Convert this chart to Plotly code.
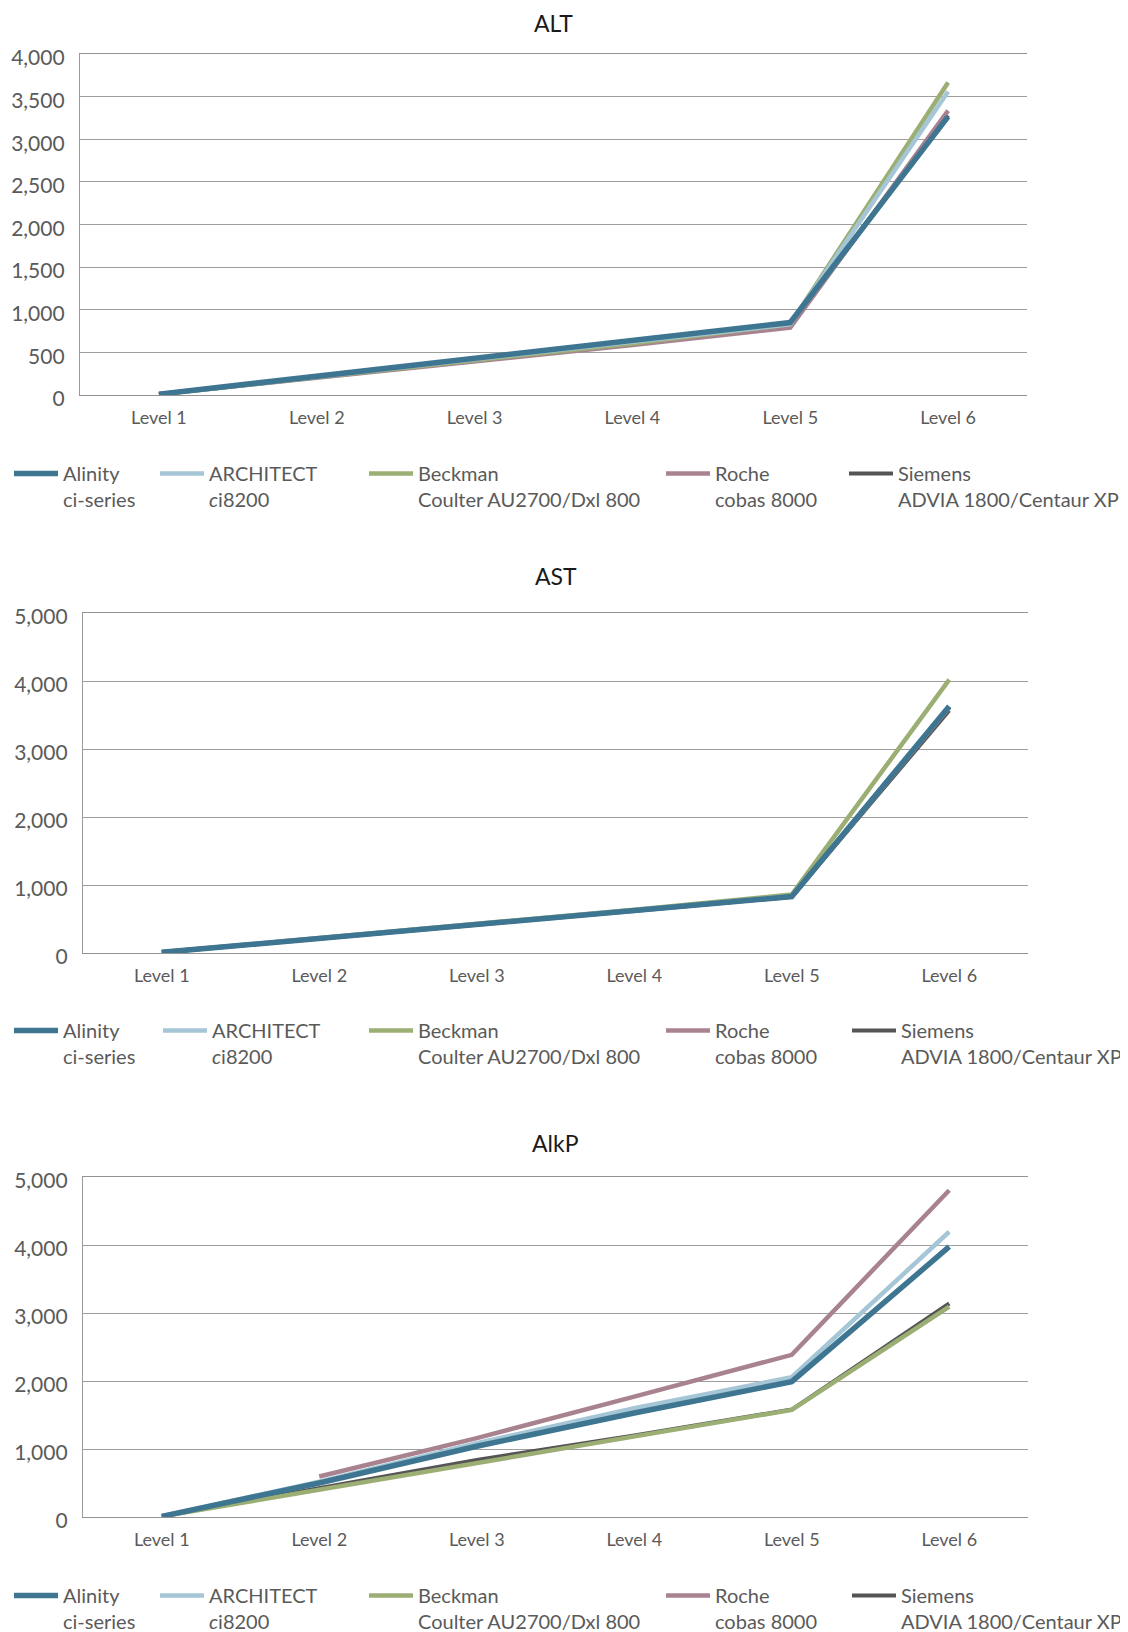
import plotly.graph_objects as go

W, H = 1128, 1632
OFF = 8  # page body margin of the written HTML page

levels = ["Level 1", "Level 2", "Level 3", "Level 4", "Level 5", "Level 6"]

# ALT
alt_alinity = [10, 220, 430, 640, 850, 3265]
alt_architect = [10, 215, 420, 620, 830, 3560]
alt_beckman = [10, 205, 405, 605, 830, 3665]
alt_roche = [10, 200, 395, 585, 790, 3335]
alt_siemens = [10, 210, 415, 615, 820, 3280]

# AST
ast_alinity = [10, 220, 420, 620, 830, 3630]
ast_architect = [10, 220, 420, 625, 835, 3620]
ast_beckman = [10, 225, 430, 635, 860, 4020]
ast_roche = [10, 220, 420, 620, 830, 3610]
ast_siemens = [10, 215, 415, 615, 825, 3565]

# AlkP
alkp_alinity = [10, 500, 1040, 1530, 1990, 3975]
alkp_architect = [10, 520, 1085, 1600, 2055, 4195]
alkp_beckman = [10, 400, 795, 1185, 1575, 3095]
alkp_roche = [None, 595, 1160, 1770, 2385, 4805]
alkp_siemens = [10, 420, 840, 1200, 1580, 3140]

series_names = [
    "Alinity<br>ci-series",
    "ARCHITECT<br><i>c</i>i8200",
    "Beckman<br>Coulter AU2700/Dxl 800",
    "Roche<br>cobas 8000",
    "Siemens<br>ADVIA 1800/Centaur XP",
]
series_colors = ["#3e7691", "#a5c6d6", "#9bae73", "#a8828f", "#555555"]
series_widths = [5.5, 4.5, 4.5, 4.5, 4]

chart_titles = ["ALT", "AST", "AlkP"]
chart_data = [
    [alt_alinity, alt_architect, alt_beckman, alt_roche, alt_siemens],
    [ast_alinity, ast_architect, ast_beckman, ast_roche, ast_siemens],
    [alkp_alinity, alkp_architect, alkp_beckman, alkp_roche, alkp_siemens],
]
y_max = [4000, 5000, 5000]
y_dtick = [500, 1000, 1000]

# layout geometry (screen pixels)
plot_x = [(80, 1027), (83, 1028), (83, 1028)]
plot_y = [(54, 395), (613, 953), (1177, 1517)]
title_y = [20, 576, 1143]
legend_sym_x = [[12, 158, 367, 664, 847], [12, 161, 367, 664, 850], [12, 158, 367, 664, 850]]
legend_top = [454, 1011, 1576]


def fx(px):
    return (px - OFF) / W


def fy(py):
    return 1 - (py - OFF) / H


FONT = "Lato"
TICK_COLOR = "#5a5a5a"
GRID_COLOR = "#9e9e9e"

fig = go.Figure()
layout = dict(
    width=W, height=H,
    margin=dict(l=0, r=0, t=0, b=0, autoexpand=False),
    paper_bgcolor="white", plot_bgcolor="white",
    font=dict(family=FONT, color=TICK_COLOR, size=18),
    annotations=[],
)

draw_order = [4, 3, 2, 1, 0]
for c in range(3):
    ax = "" if c == 0 else str(c + 1)
    for s in draw_order:
        li = c * 5 + s + 1
        lname = "legend" if li == 1 else f"legend{li}"
        fig.add_trace(go.Scatter(
            x=levels, y=chart_data[c][s], mode="lines",
            name=series_names[s],
            line=dict(color=series_colors[s], width=series_widths[s]),
            xaxis="x" + ax, yaxis="y" + ax,
            legend=lname, showlegend=True, hoverinfo="skip",
        ))
    x0, x1 = plot_x[c]
    y0, y1 = plot_y[c]
    layout["xaxis" + ax] = dict(
        domain=[fx(x0), fx(x1)], anchor="y" + ax,
        type="category", range=[-0.5, 5.5],
        showgrid=False, showline=True, mirror=True,
        linecolor="#939393", linewidth=1.3,
        ticks="", ticklabelstandoff=6, automargin=False,
        tickfont=dict(family=FONT, size=18, color=TICK_COLOR),
        fixedrange=True,
    )
    layout["yaxis" + ax] = dict(
        domain=[fy(y1), fy(y0)], anchor="x" + ax,
        range=[0, y_max[c]], dtick=y_dtick[c], tickformat=",",
        showgrid=True, gridcolor=GRID_COLOR, gridwidth=1.3,
        showline=True, linecolor="#9a9a9a", linewidth=1.3,
        zeroline=False, ticks="", ticklabelstandoff=10, ticklabelshift=4,
        automargin=False,
        tickfont=dict(family=FONT, size=21, color=TICK_COLOR),
        fixedrange=True,
    )
    if c == 0:
        ty, tanchor = 1.0, "top"
    else:
        ty, tanchor = fy(title_y[c]), "middle"
    layout["annotations"].append(dict(
        text=chart_titles[c], x=fx((x0 + x1) / 2), y=ty,
        xref="paper", yref="paper", xanchor="center", yanchor=tanchor,
        showarrow=False, borderpad=0,
        font=dict(family=FONT, size=23, color="#1a1a1a"),
    ))
    for s in range(5):
        li = c * 5 + s + 1
        lname = "legend" if li == 1 else f"legend{li}"
        layout[lname] = dict(
            x=max(legend_sym_x[c][s] - 11, 0) / W,
            y=1 - (legend_top[c] - OFF) / H,
            xref="container", yref="container",
            xanchor="left", yanchor="top",
            orientation="h", valign="top",
            bgcolor="rgba(0,0,0,0)", borderwidth=0,
            itemwidth=44, itemclick=False, itemdoubleclick=False,
            font=dict(family=FONT, size=20, color=TICK_COLOR),
        )

fig.update_layout(**layout)
fig.write_html("out.html")
